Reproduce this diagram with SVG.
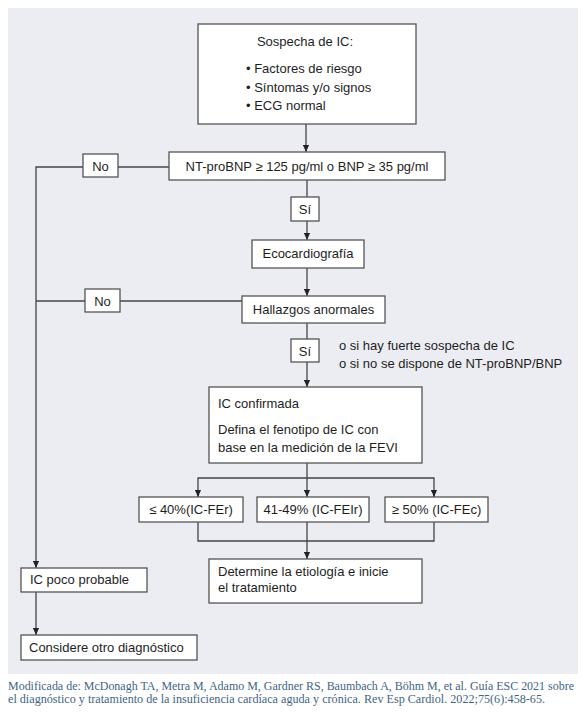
<svg xmlns="http://www.w3.org/2000/svg" width="587" height="712" viewBox="0 0 587 712">
<style>
.box{fill:#ffffff;stroke:#555555;stroke-width:1.3}
.t{font-family:"Liberation Sans",Arial,sans-serif;font-size:13px;fill:#1e1e1e}
.c{text-anchor:middle}
.ln{fill:none;stroke:#444444;stroke-width:1.3}
.foot{font-family:"Liberation Serif","Times New Roman",serif;font-size:12px;fill:#3f6486}
</style>
<defs>
<marker id="ah" viewBox="0 0 8 8" refX="8" refY="4" markerWidth="7" markerHeight="7" markerUnits="userSpaceOnUse" orient="auto">
<path d="M0,0.5 L8,4 L0,7.5 Z" fill="#222222"/>
</marker>
</defs>
<rect x="8" y="8" width="570" height="666" fill="#ecedf2"/>
<g id="connectors">
<line class="ln" x1="306" y1="124" x2="306" y2="152" marker-end="url(#ah)"/>
<line class="ln" x1="169" y1="167" x2="118" y2="167"/>
<polyline class="ln" points="83,167 36,167 36,568" marker-end="url(#ah)"/>
<line class="ln" x1="307" y1="180" x2="307" y2="197"/>
<line class="ln" x1="307" y1="221" x2="307" y2="240" marker-end="url(#ah)"/>
<line class="ln" x1="307" y1="268" x2="307" y2="296" marker-end="url(#ah)"/>
<line class="ln" x1="242" y1="301" x2="120" y2="301"/>
<line class="ln" x1="85" y1="301" x2="36" y2="301"/>
<line class="ln" x1="307" y1="323" x2="307" y2="339"/>
<line class="ln" x1="307" y1="362" x2="307" y2="387" marker-end="url(#ah)"/>
<line class="ln" x1="307" y1="463" x2="307" y2="497" marker-end="url(#ah)"/>
<polyline class="ln" points="198,497 198,478 434,478 434,497"/>
<line class="ln" x1="198" y1="490" x2="198" y2="497" marker-end="url(#ah)"/>
<line class="ln" x1="434" y1="490" x2="434" y2="497" marker-end="url(#ah)"/>
<polyline class="ln" points="198,522 198,541 434,541 434,522"/>
<line class="ln" x1="307" y1="522" x2="307" y2="559" marker-end="url(#ah)"/>
<line class="ln" x1="36" y1="592" x2="36" y2="635" marker-end="url(#ah)"/>
</g>
<g id="sospecha">
<rect class="box" x="198" y="24" width="218" height="100"/>
<text class="t c" x="305" y="46">Sospecha de IC:</text>
<text class="t" x="246" y="73">• Factores de riesgo</text>
<text class="t" x="246" y="92">• Síntomas y/o signos</text>
<text class="t" x="246" y="110">• ECG normal</text>
</g>
<g id="ntprobnp">
<rect class="box" x="169" y="152" width="276" height="28"/>
<text class="t c" x="307" y="171">NT-proBNP ≥ 125 pg/ml o BNP ≥ 35 pg/ml</text>
</g>
<g id="no1">
<rect class="box" x="83" y="154" width="35" height="23"/>
<text class="t c" x="100.5" y="171">No</text>
</g>
<g id="si1">
<rect class="box" x="291" y="197" width="28" height="24"/>
<text class="t c" x="305" y="214">Sí</text>
</g>
<g id="eco">
<rect class="box" x="252" y="240" width="112" height="28"/>
<text class="t c" x="308" y="258">Ecocardiografía</text>
</g>
<g id="hallazgos">
<rect class="box" x="242" y="296" width="143" height="27"/>
<text class="t c" x="313.5" y="314">Hallazgos anormales</text>
</g>
<g id="no2">
<rect class="box" x="85" y="289" width="35" height="23"/>
<text class="t c" x="102.5" y="306">No</text>
</g>
<g id="si2">
<rect class="box" x="291" y="339" width="28" height="23"/>
<text class="t c" x="305" y="356">Sí</text>
</g>
<g id="nota">
<text class="t" x="339" y="350">o si hay fuerte sospecha de IC</text>
<text class="t" x="339" y="368">o si no se dispone de NT-proBNP/BNP</text>
</g>
<g id="confirmada">
<rect class="box" x="209" y="387" width="213" height="76"/>
<text class="t" x="218" y="408">IC confirmada</text>
<text class="t" x="218" y="434">Defina el fenotipo de IC con</text>
<text class="t" x="218" y="452">base en la medición de la FEVI</text>
</g>
<g id="fer">
<rect class="box" x="139" y="497" width="104" height="25"/>
<text class="t c" x="191" y="514">≤ 40%(IC-FEr)</text>
</g>
<g id="feir">
<rect class="box" x="257" y="497" width="112" height="25"/>
<text class="t c" x="313" y="514">41-49% (IC-FEIr)</text>
</g>
<g id="fec">
<rect class="box" x="385" y="497" width="103" height="25"/>
<text class="t c" x="436.5" y="514">≥ 50% (IC-FEc)</text>
</g>
<g id="determine">
<rect class="box" x="209" y="559" width="213" height="44"/>
<text class="t" x="218" y="576">Determine la etiología e inicie</text>
<text class="t" x="218" y="592">el tratamiento</text>
</g>
<g id="poco">
<rect class="box" x="21" y="568" width="126" height="24"/>
<text class="t" x="30" y="584">IC poco probable</text>
</g>
<g id="otro">
<rect class="box" x="21" y="635" width="176" height="25"/>
<text class="t" x="29" y="652">Considere otro diagnóstico</text>
</g>
<g id="footer">
<text class="foot" x="8" y="690" textLength="566" lengthAdjust="spacingAndGlyphs">Modificada de: McDonagh TA, Metra M, Adamo M, Gardner RS, Baumbach A, Böhm M, et al. Guía ESC 2021 sobre</text>
<text class="foot" x="8" y="703" textLength="537" lengthAdjust="spacingAndGlyphs">el diagnóstico y tratamiento de la insuficiencia cardíaca aguda y crónica. Rev Esp Cardiol. 2022;75(6):458-65.</text>
</g>
</svg>
